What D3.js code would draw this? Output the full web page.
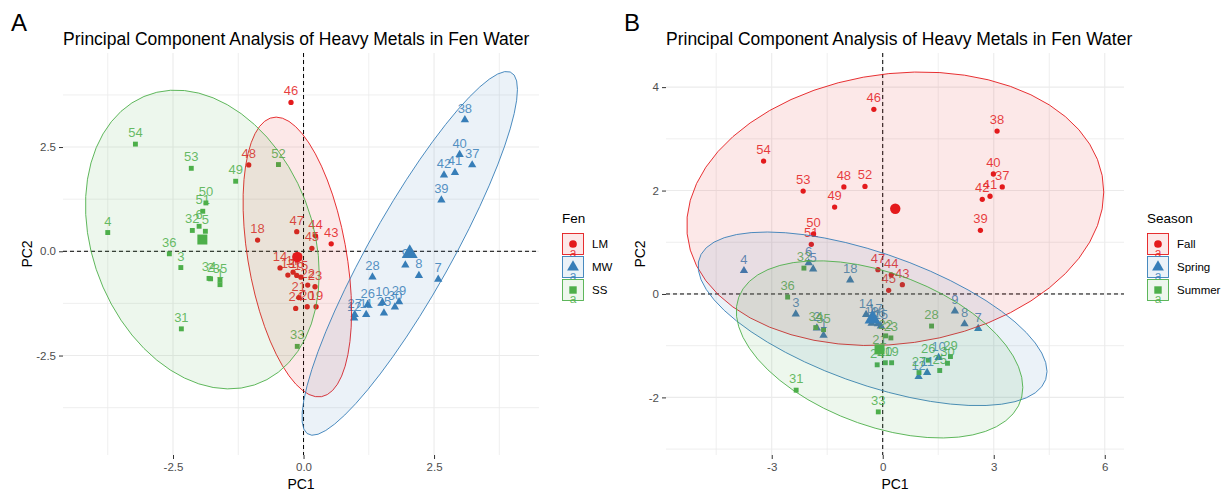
<!DOCTYPE html>
<html>
<head>
<meta charset="utf-8">
<script src="https://cdn.jsdelivr.net/npm/d3@7"></script>
<style>
body { margin:0; background:#fff; }
svg text { font-family: "Liberation Sans", Arial, sans-serif; }
</style>
</head>
<body>
<svg id="chart" width="1227" height="493"></svg>
<script>
// sample numbers and PCA scores
var sampleIds = ["1","2","3","4","5","6","7","8","9","10","11","12","13","14","15","16","17","18",
  "19","20","21","22","23","24","25","26","27","28","29","30","31","32","33","34","35","36",
  "37","38","39","40","41","42","43","44","45","46","47","48","49","50","51","52","53","54"];
var pc1 = [-1.60,-1.78,-2.35,-3.75,-1.88,-2.00, 2.58, 2.21, 1.95, 1.51, 1.20, 0.97,-0.30,-0.45,-0.05,-0.13,-0.20,-0.88,
   0.24, 0.07,-0.09, 0.08, 0.22,-0.15, 1.54, 1.23, 0.98, 1.32, 1.83, 1.75,-2.34,-2.13,-0.12,-1.81,-1.60,-2.57,
   3.23, 3.09, 2.64, 2.99, 2.90, 2.69, 0.53, 0.23, 0.16,-0.24,-0.13,-1.05,-1.30,-1.87,-1.93,-0.48,-2.15,-3.22];
var pc2 = [-0.80,-0.66,-0.39, 0.45, 0.48, 0.60,-0.67,-0.58,-0.33,-1.23,-1.52,-1.60,-0.57,-0.40,-0.62,-0.58,-0.50, 0.27,
  -1.33,-1.33,-1.11,-0.81,-0.85,-1.37,-1.48,-1.28,-1.52,-0.62,-1.21,-1.34,-1.86, 0.50,-2.28,-0.65,-0.69,-0.06,
   2.07, 3.15, 1.23, 2.32, 1.89, 1.83, 0.18, 0.37, 0.07, 3.57, 0.47, 2.07, 1.68, 1.16, 0.96, 2.08, 1.99, 2.57];
var fen = ["SS","SS","SS","SS","SS","SS","MW","MW","MW","MW","MW","MW","LM","LM","LM","LM","LM","LM",
  "LM","LM","LM","LM","LM","LM","MW","MW","MW","MW","MW","MW","SS","SS","SS","SS","SS","SS",
  "MW","MW","MW","MW","MW","MW","LM","LM","LM","LM","LM","LM","SS","SS","SS","SS","SS","SS"];
var season = ["Spring","Spring","Spring","Spring","Spring","Spring","Spring","Spring","Spring","Spring","Spring","Spring","Spring","Spring","Spring","Spring","Spring","Spring",
  "Summer","Summer","Summer","Summer","Summer","Summer","Summer","Summer","Summer","Summer","Summer","Summer","Summer","Summer","Summer","Summer","Summer","Summer",
  "Fall","Fall","Fall","Fall","Fall","Fall","Fall","Fall","Fall","Fall","Fall","Fall","Fall","Fall","Fall","Fall","Fall","Fall"];
var fenLevels = ["LM","MW","SS"];
var seasonLevels = ["Fall","Spring","Summer"];

var xTicksA = [-2.5, 0, 2.5], xTickLabelsA = ["-2.5","0.0","2.5"];
var yTicksA = [-2.5, 0, 2.5], yTickLabelsA = ["-2.5","0.0","2.5"];
var xTicksB = [-3, 0, 3, 6], xTickLabelsB = ["-3","0","3","6"];
var yTicksB = [-2, 0, 2, 4], yTickLabelsB = ["-2","0","2","4"];

var chartTitle = "Principal Component Analysis of Heavy Metals in Fen Water";

// look
var groupColors = ["#E41A1C", "#377EB8", "#4DAF4A"];
var groupShapes = [d3.symbolCircle, d3.symbolTriangle, d3.symbolSquare];
var pointSizes = [22, 30, 24];
var meanSizes = [85, 110, 100];
var F95 = 3.5915; // qf(0.95, 2, 17), 18 samples per group

var svg = d3.select("#chart");
svg.append("rect").attr("width",1227).attr("height",493).attr("fill","#fff");

var panels = [
  {letter:"A", letterX:11, left:63, right:539, xDomain:[-4.607,4.51], yDomain:[-4.885,4.755],
   groups:fen, levels:fenLevels, legendTitle:"Fen", legendX:562, yTitleX:27,
   xTicks:xTicksA, xLabels:xTickLabelsA, yTicks:yTicksA, yLabels:yTickLabelsA},
  {letter:"B", letterX:624, left:666, right:1124, xDomain:[-5.857,6.52], yDomain:[-3.114,4.66],
   groups:season, levels:seasonLevels, legendTitle:"Season", legendX:1147, yTitleX:640,
   xTicks:xTicksB, xLabels:xTickLabelsB, yTicks:yTicksB, yLabels:yTickLabelsB}
];
var plotTop = 53, plotBottom = 455;

function minorOf(ticks, domain){
  var step = ticks[1]-ticks[0], out = [];
  var v = ticks[0] - step/2;
  while (v - step > domain[0]) v -= step;
  for (; v < domain[1]; v += step) if (v > domain[0]) out.push(v);
  return out;
}

// normal-theory 95% ellipse, same recipe as stat_ellipse(type = "norm")
function ellipsePts(xs, ys){
  var n = xs.length, mx = d3.mean(xs), my = d3.mean(ys);
  var sxx = 0, syy = 0, sxy = 0;
  for (var i=0;i<n;i++){
    sxx += (xs[i]-mx)*(xs[i]-mx); syy += (ys[i]-my)*(ys[i]-my); sxy += (xs[i]-mx)*(ys[i]-my);
  }
  sxx /= n-1; syy /= n-1; sxy /= n-1;
  var a = Math.sqrt(sxx), b = sxy/a, c = Math.sqrt(syy - b*b);
  var r = Math.sqrt(2*F95), pts = [];
  for (var k=0;k<51;k++){
    var t = 2*Math.PI*k/51;
    pts.push([mx + r*a*Math.cos(t), my + r*(b*Math.cos(t) + c*Math.sin(t))]);
  }
  return {pts:pts, mean:[mx,my]};
}

panels.forEach(function(p, pi){
  var x = d3.scaleLinear().domain(p.xDomain).range([p.left, p.right]);
  var y = d3.scaleLinear().domain(p.yDomain).range([plotBottom, plotTop]);
  var g = svg.append("g");
  var clipId = "clip"+pi;
  g.append("clipPath").attr("id",clipId).append("rect")
    .attr("x",p.left).attr("y",plotTop).attr("width",p.right-p.left).attr("height",plotBottom-plotTop);

  // grid
  var grid = g.append("g");
  minorOf(p.xTicks,p.xDomain).forEach(function(v){
    grid.append("line").attr("x1",x(v)).attr("x2",x(v)).attr("y1",plotTop).attr("y2",plotBottom)
      .attr("stroke","#EBEBEB").attr("stroke-width",0.8);
  });
  minorOf(p.yTicks,p.yDomain).forEach(function(v){
    grid.append("line").attr("y1",y(v)).attr("y2",y(v)).attr("x1",p.left).attr("x2",p.right)
      .attr("stroke","#EBEBEB").attr("stroke-width",0.8);
  });
  p.xTicks.forEach(function(v){
    grid.append("line").attr("x1",x(v)).attr("x2",x(v)).attr("y1",plotTop).attr("y2",plotBottom)
      .attr("stroke","#EBEBEB").attr("stroke-width",1.1);
  });
  p.yTicks.forEach(function(v){
    grid.append("line").attr("y1",y(v)).attr("y2",y(v)).attr("x1",p.left).attr("x2",p.right)
      .attr("stroke","#EBEBEB").attr("stroke-width",1.1);
  });

  // axes
  var xa = g.append("g").attr("transform","translate(0,"+plotBottom+")")
    .call(d3.axisBottom(x).tickValues(p.xTicks).tickSize(4).tickPadding(4)
      .tickFormat(function(d,i){ return p.xLabels[i]; }));
  var ya = g.append("g").attr("transform","translate("+p.left+",0)")
    .call(d3.axisLeft(y).tickValues(p.yTicks).tickSize(4).tickPadding(3)
      .tickFormat(function(d,i){ return p.yLabels[i]; }));
  [xa, ya].forEach(function(a){
    a.select(".domain").remove();
    a.selectAll(".tick line").attr("stroke","#333");
    a.selectAll(".tick text").attr("fill","#4D4D4D").style("font-size","11.5px")
      .style("font-family","'Liberation Sans', Arial, sans-serif");
  });

  var plot = g.append("g").attr("clip-path","url(#"+clipId+")");

  // reference lines
  plot.append("line").attr("x1",p.left).attr("x2",p.right).attr("y1",y(0)).attr("y2",y(0))
    .attr("stroke","#000").attr("stroke-width",1).attr("stroke-dasharray","4,3");
  plot.append("line").attr("x1",x(0)).attr("x2",x(0)).attr("y1",plotTop).attr("y2",plotBottom)
    .attr("stroke","#000").attr("stroke-width",1).attr("stroke-dasharray","4,3");

  var rows = sampleIds.map(function(id,i){
    return {id:id, x:pc1[i], y:pc2[i], gi:p.levels.indexOf(p.groups[i])};
  });

  plot.selectAll(".pt").data(rows).enter().append("path")
    .attr("d", function(d){ return d3.symbol().type(groupShapes[d.gi]).size(pointSizes[d.gi])(); })
    .attr("transform", function(d){ return "translate("+x(d.x)+","+y(d.y)+")"; })
    .attr("fill", function(d){ return groupColors[d.gi]; });

  plot.selectAll(".lab").data(rows).enter().append("text")
    .attr("x", function(d){ return x(d.x); })
    .attr("y", function(d){ return y(d.y) - 7; })
    .attr("text-anchor","middle")
    .attr("fill", function(d){ return groupColors[d.gi]; })
    .attr("fill-opacity",0.85)
    .style("font-size","13px")
    .text(function(d){ return d.id; });

  var line = d3.line().x(function(d){ return x(d[0]); }).y(function(d){ return y(d[1]); })
    .curve(d3.curveLinearClosed);
  var ells = p.levels.map(function(lv, li){
    var sub = rows.filter(function(d){ return d.gi === li; });
    return ellipsePts(sub.map(function(d){return d.x;}), sub.map(function(d){return d.y;}));
  });
  ells.forEach(function(e, li){
    plot.append("path").attr("d", line(e.pts))
      .attr("fill", groupColors[li]).attr("fill-opacity",0.1)
      .attr("stroke", groupColors[li]).attr("stroke-width",0.9);
  });
  ells.forEach(function(e, li){
    plot.append("path")
      .attr("d", d3.symbol().type(groupShapes[li]).size(meanSizes[li])())
      .attr("transform","translate("+x(e.mean[0])+","+y(e.mean[1])+")")
      .attr("fill", groupColors[li]);
  });

  // titles
  g.append("text").attr("x",p.letterX).attr("y",31).style("font-size","24px").attr("fill","#000").text(p.letter);
  g.append("text").attr("x",p.left).attr("y",45).style("font-size","17.5px").attr("fill","#000").text(chartTitle);
  g.append("text").attr("x",(p.left+p.right)/2).attr("y",489).attr("text-anchor","middle")
    .style("font-size","14px").attr("fill","#000").text("PC1");
  g.append("text").attr("transform","translate("+p.yTitleX+","+((plotTop+plotBottom)/2)+") rotate(-90)")
    .attr("text-anchor","middle").attr("dy","0.35em")
    .style("font-size","14px").attr("fill","#000").text("PC2");

  // legend
  var lg = g.append("g").attr("transform","translate("+p.legendX+",0)");
  lg.append("text").attr("x",0).attr("y",223).style("font-size","13.5px").attr("fill","#000").text(p.legendTitle);
  p.levels.forEach(function(lv, li){
    var ky = 233 + li*23;
    lg.append("rect").attr("x",0.5).attr("y",ky+0.5).attr("width",21).attr("height",21)
      .attr("fill","#fff");
    lg.append("rect").attr("x",0.5).attr("y",ky+0.5).attr("width",21).attr("height",21)
      .attr("fill",groupColors[li]).attr("fill-opacity",0.1)
      .attr("stroke",groupColors[li]).attr("stroke-width",0.9);
    lg.append("path").attr("d", d3.symbol().type(groupShapes[li]).size(meanSizes[li]*0.55)())
      .attr("transform","translate(11,"+(ky+11)+")").attr("fill",groupColors[li]);
    lg.append("text").attr("x",11).attr("y",ky+24).attr("text-anchor","middle")
      .style("font-size","12px").attr("fill",groupColors[li]).attr("fill-opacity",0.85).text("a");
    lg.append("text").attr("x",30).attr("y",ky+11).attr("dy","0.35em")
      .style("font-size","11.5px").attr("fill","#000").text(lv);
  });
});
</script>
</body>
</html>
